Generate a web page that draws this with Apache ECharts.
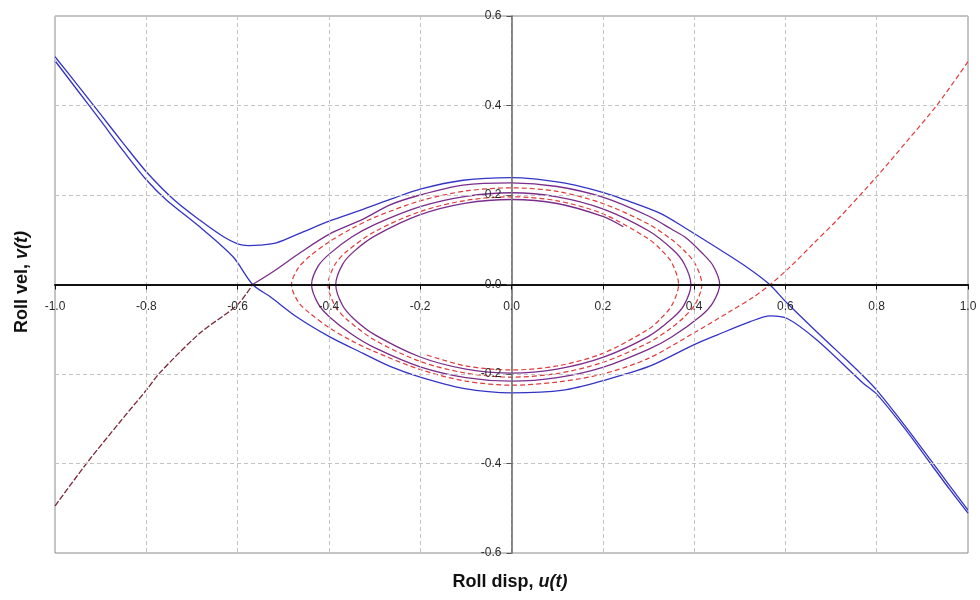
<!DOCTYPE html>
<html>
<head>
<meta charset="utf-8">
<script src="https://cdn.jsdelivr.net/npm/echarts/dist/echarts.min.js"></script>
<style>html,body{margin:0;padding:0;background:#fff}#c{width:980px;height:600px}</style>
</head>
<body>
<div id="c"></div>
<script>
// Axis ticks
var xTicks = [-1.0, -0.8, -0.6, -0.4, -0.2, 0.0, 0.2, 0.4, 0.6, 0.8, 1.0];
var yTicks = [-0.6, -0.4, -0.2, 0.0, 0.2, 0.4, 0.6];

// Blue curve passing over the top (upper-left -> lower-right)
var blueUpper = [
  [-1.0,0.509],[-0.95,0.445],[-0.9,0.38],[-0.85,0.315],[-0.8,0.252],[-0.74,0.19],[-0.683,0.144],
  [-0.63,0.106],[-0.6,0.091],[-0.577,0.087],[-0.55,0.088],[-0.515,0.093],[-0.46,0.116],[-0.398,0.142],
  [-0.325,0.168],[-0.266,0.19],[-0.2,0.213],[-0.106,0.233],[0.0,0.239],[0.114,0.227],[0.2,0.206],
  [0.238,0.193],[0.326,0.159],[0.384,0.124],[0.45,0.082],[0.508,0.044],[0.563,0.002],[0.604,-0.042],
  [0.669,-0.106],[0.72,-0.155],[0.764,-0.198],[0.8,-0.236],[0.86,-0.313],[0.918,-0.392],[0.96,-0.45],[1.0,-0.504]
];
// Blue curve passing under the bottom
var blueLower = [
  [-1.0,0.5],[-0.95,0.433],[-0.9,0.366],[-0.85,0.298],[-0.8,0.234],[-0.756,0.189],[-0.683,0.129],
  [-0.61,0.062],[-0.567,0.0],[-0.529,-0.027],[-0.471,-0.072],[-0.398,-0.117],[-0.325,-0.154],
  [-0.266,-0.183],[-0.2,-0.207],[-0.106,-0.232],[0.0,-0.242],[0.114,-0.236],[0.2,-0.215],[0.304,-0.182],
  [0.399,-0.135],[0.45,-0.113],[0.523,-0.083],[0.567,-0.07],[0.604,-0.076],[0.669,-0.124],[0.771,-0.221],
  [0.8,-0.245],[0.86,-0.32],[0.918,-0.4],[0.96,-0.458],[1.0,-0.511]
];
// Incoming branch (lower-left) into the left crossing
var purpleInflow = [
  [-1.0,-0.495],[-0.928,-0.396],[-0.86,-0.31],[-0.8,-0.236],[-0.771,-0.198],[-0.683,-0.109],[-0.601,-0.046],[-0.567,0.0]
];
// Purple solid spiral, starting at the left crossing
var purpleSpiral = [
  [-0.567,0.0],[-0.52,0.03],[-0.46,0.073],[-0.398,0.113],[-0.325,0.146],[-0.266,0.178],[-0.2,0.2],[-0.106,0.222],
  [0.0,0.227],[0.1,0.219],[0.2,0.195],[0.3,0.153],[0.35,0.124],[0.384,0.103],[0.416,0.072],[0.441,0.043],[0.456,0.0],
  [0.441,-0.041],[0.416,-0.069],[0.35,-0.118],[0.3,-0.145],[0.2,-0.185],[0.1,-0.208],[0.0,-0.216],
  [-0.1,-0.208],[-0.2,-0.184],[-0.3,-0.141],[-0.35,-0.111],[-0.398,-0.073],[-0.423,-0.044],[-0.438,0.0],
  [-0.423,0.042],[-0.398,0.069],[-0.35,0.106],[-0.3,0.134],[-0.2,0.174],[-0.1,0.197],[0.0,0.205],
  [0.1,0.196],[0.2,0.169],[0.3,0.12],[0.353,0.078],[0.378,0.047],[0.393,0.0],
  [0.378,-0.046],[0.353,-0.075],[0.3,-0.116],[0.2,-0.163],[0.1,-0.189],[0.0,-0.198],
  [-0.1,-0.189],[-0.2,-0.162],[-0.3,-0.112],[-0.345,-0.077],[-0.37,-0.047],[-0.385,0.0],
  [-0.37,0.045],[-0.345,0.074],[-0.3,0.108],[-0.2,0.156],[-0.1,0.182],[0.0,0.19],[0.1,0.181],[0.2,0.152],[0.245,0.129]
];
// Red dashed: incoming branch from upper-right, then spiral
var redSpiral = [
  [1.0,0.498],[0.932,0.401],[0.866,0.32],[0.8,0.241],[0.713,0.144],[0.66,0.09],[0.611,0.04],[0.567,0.0],
  [0.53,-0.028],[0.479,-0.06],[0.4,-0.108],[0.3,-0.165],[0.2,-0.2],[0.1,-0.218],[0.0,-0.225],
  [-0.1,-0.216],[-0.2,-0.19],[-0.3,-0.15],[-0.35,-0.126],[-0.4,-0.096],[-0.442,-0.064],[-0.467,-0.039],[-0.482,0.0],
  [-0.467,0.037],[-0.442,0.063],[-0.4,0.095],[-0.35,0.125],[-0.3,0.15],[-0.2,0.187],[-0.1,0.209],[0.0,0.216],
  [0.1,0.208],[0.2,0.181],[0.3,0.135],[0.35,0.101],[0.377,0.077],[0.402,0.047],[0.417,0.0],
  [0.402,-0.045],[0.377,-0.074],[0.35,-0.097],[0.3,-0.13],[0.2,-0.174],[0.1,-0.199],[0.0,-0.207],
  [-0.1,-0.198],[-0.2,-0.172],[-0.3,-0.124],[-0.362,-0.077],[-0.387,-0.047],[-0.402,0.0],
  [-0.387,0.044],[-0.362,0.073],[-0.3,0.118],[-0.2,0.163],[-0.1,0.188],[0.0,0.196],
  [0.1,0.187],[0.2,0.158],[0.3,0.102],[0.326,0.079],[0.351,0.049],[0.366,0.0],
  [0.351,-0.047],[0.326,-0.077],[0.3,-0.1],[0.2,-0.154],[0.1,-0.182],[0.0,-0.191],[-0.1,-0.182],[-0.19,-0.156]
];

var xTitle = ['Roll disp, ', 'u(t)'];
var yTitle = ['Roll vel, ', 'v(t)'];

var W = 980, H = 600;
var G = {left: 55, right: 12, top: 16, bottom: 47};
var gridW = W - G.left - G.right, gridH = H - G.top - G.bottom;
var xMin = xTicks[0], xMax = xTicks[xTicks.length - 1];
var yMin = yTicks[0], yMax = yTicks[yTicks.length - 1];
// axes drawn through the origin: shift them inwards from the grid edges
var yAxisOffset = -gridW * (0 - xMin) / (xMax - xMin);
var xAxisOffset = -gridH * (0 - yMin) / (yMax - yMin);

var chart = echarts.init(document.getElementById('c'), null, {renderer: 'canvas'});
var FONT = 'Liberation Sans, Arial, sans-serif';
function lineSeries(data, color, type, width, z) {
  return {
    type: 'line', data: data, showSymbol: false, symbol: 'none', smooth: 0.3,
    lineStyle: {color: color, width: width, type: type}, z: z, silent: true
  };
}
var option = {
  animation: false,
  backgroundColor: '#fff',
  grid: {left: G.left, right: G.right, top: G.top, bottom: G.bottom, show: true, borderColor: '#8a8a8a', borderWidth: 1, backgroundColor: '#fff'},
  xAxis: {
    type: 'value', min: xMin, max: xMax, interval: 0.2, position: 'bottom', offset: xAxisOffset, z: 6,
    axisLine: {onZero: false, lineStyle: {color: '#111', width: 2}},
    axisTick: {show: true, length: 5, lineStyle: {color: '#111'}},
    axisLabel: {formatter: function (v) { return v.toFixed(1); }, color: '#2a2a2a', fontSize: 12, fontFamily: FONT, margin: 16, showMinLabel: true, showMaxLabel: true},
    splitLine: {show: true, lineStyle: {color: '#c4c4c4', type: [4, 3], width: 1}}
  },
  yAxis: {
    type: 'value', min: yMin, max: yMax, interval: 0.2, position: 'left', offset: yAxisOffset, z: 6,
    axisLine: {onZero: false, lineStyle: {color: '#666', width: 1.5}},
    axisTick: {show: true, length: 5, lineStyle: {color: '#555'}},
    axisLabel: {formatter: function (v) { return v.toFixed(1); }, color: '#2a2a2a', fontSize: 12, fontFamily: FONT, margin: 10, showMinLabel: true, showMaxLabel: true},
    splitLine: {show: true, lineStyle: {color: '#c4c4c4', type: [4, 3], width: 1}}
  },
  series: [
    lineSeries(blueUpper, '#3434c6', 'solid', 1.3, 3),
    lineSeries(blueLower, '#3434c6', 'solid', 1.3, 3),
    lineSeries(purpleInflow, '#7a2436', [6, 2], 1.3, 4),
    lineSeries(purpleSpiral, '#7b2c8c', 'solid', 1.3, 4),
    lineSeries(redSpiral, '#e03a3a', [5, 3], 1.2, 5)
  ],
  graphic: [
    {type: 'text', x: 510, y: 582, z: 10,
     style: {text: '{a|' + xTitle[0] + '}{b|' + xTitle[1] + '}', align: 'center', verticalAlign: 'middle',
       rich: {a: {fontSize: 18, fontWeight: 'bold', fontFamily: FONT, fill: '#111', color: '#111'},
              b: {fontSize: 18, fontWeight: 'bold', fontStyle: 'italic', fontFamily: FONT, fill: '#111', color: '#111'}}}},
    {type: 'text', x: 22, y: 282, rotation: Math.PI / 2, z: 10,
     style: {text: '{a|' + yTitle[0] + '}{b|' + yTitle[1] + '}', align: 'center', verticalAlign: 'middle',
       rich: {a: {fontSize: 18, fontWeight: 'bold', fontFamily: FONT, fill: '#111', color: '#111'},
              b: {fontSize: 18, fontWeight: 'bold', fontStyle: 'italic', fontFamily: FONT, fill: '#111', color: '#111'}}}}
  ]
};
chart.setOption(option);
</script>
</body>
</html>
